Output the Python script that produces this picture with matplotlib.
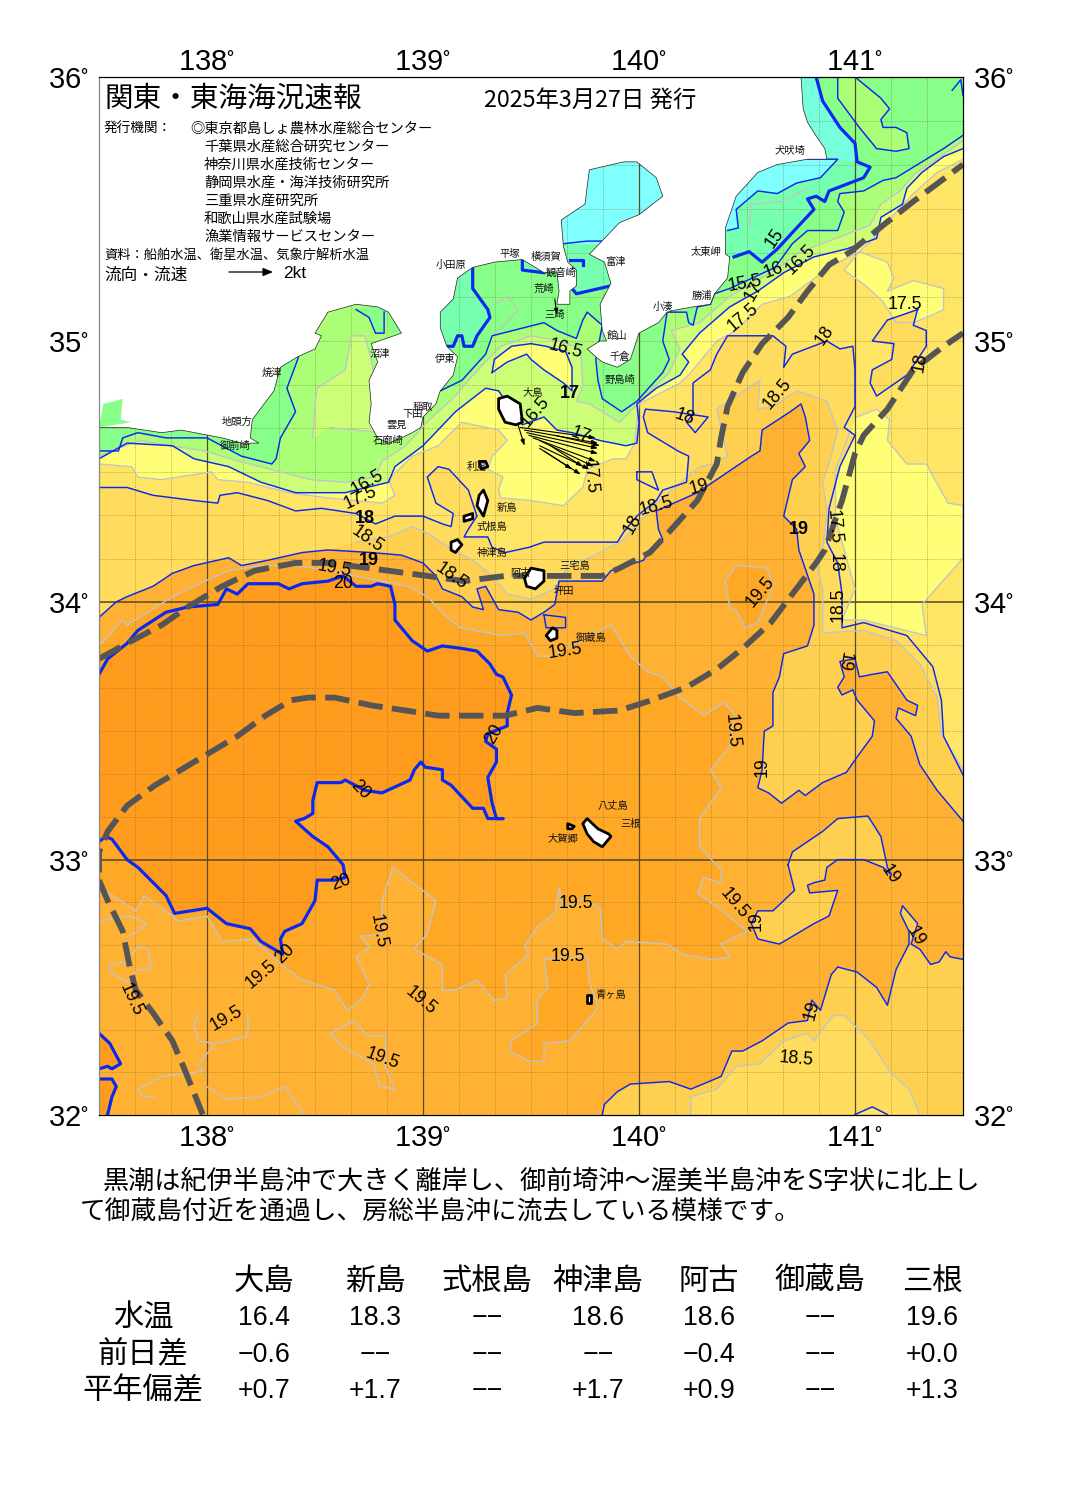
import numpy as np
import matplotlib
matplotlib.use('Agg')
import matplotlib.pyplot as plt
from matplotlib.patches import Polygon
from matplotlib.transforms import ScaledTranslation

plt.rcParams['font.family'] = ['Noto Sans CJK JP', 'DejaVu Sans']
plt.rcParams['mathtext.default'] = 'regular'

W, H = 1065, 1505

# 等温線 (経度, 緯度)
iso_16 = [(137.50,34.58),(137.59,34.58),(137.61,34.63),(137.68,34.65),(137.81,34.63),(138.00,34.63),(138.16,34.56),(138.30,34.53),(138.32,34.55),(138.34,34.63),(138.41,34.73),(138.37,34.82),(138.42,34.93),(138.52,35.25),(138.89,35.25),(139.08,34.81),(139.18,34.85),(139.29,34.95),(139.32,35.02),(139.56,35.07),(139.62,35.04),(139.71,35.01),(139.74,35.08),(139.76,35.11),(139.83,35.06),(139.80,34.93),(139.81,34.85),(139.83,34.78),(139.92,34.73),(139.99,34.77),(140.11,34.88),(140.14,34.93),(140.11,35.00),(140.13,35.11),(140.22,35.11),(140.23,35.07),(140.25,35.06),(140.27,35.13),(140.33,35.14),(140.35,35.18),(140.42,35.20),(140.63,35.28),(140.71,35.37),(140.78,35.42),(140.92,35.42),(140.95,35.49),(140.92,35.53),(140.93,35.56),(141.04,35.57),(141.13,35.61),(141.19,35.62),(141.27,35.66),(141.41,35.73),(141.50,35.78)]
iso_16_head = [(138.69,35.12),(138.75,35.09),(138.78,35.03),(138.82,35.03),(138.82,35.11)]
iso_165 = [(137.50,34.56),(137.62,34.60),(137.69,34.62),(137.83,34.60),(137.99,34.58),(138.15,34.54),(138.34,34.50),(138.48,34.47),(138.64,34.46),(138.78,34.48),(138.81,34.54),(138.92,34.60),(139.03,34.70),(139.15,34.79),(139.22,34.86),(139.30,34.93),(139.36,34.98),(139.50,35.02),(139.63,35.00),(139.73,34.97),(139.74,34.83),(139.71,34.77),(139.77,34.76),(139.91,34.69),(140.03,34.79),(140.14,34.88),(140.19,34.97),(140.15,35.04),(140.28,35.07),(140.42,35.17),(140.61,35.26),(140.75,35.34),(140.88,35.38),(141.07,35.44),(141.12,35.52),(141.21,35.57),(141.27,35.63),(141.50,35.76)]
iso_17 = [(137.50,34.55),(137.63,34.61),(137.84,34.60),(137.94,34.55),(138.10,34.52),(138.25,34.46),(138.41,34.42),(138.64,34.42),(138.84,34.46),(138.87,34.52),(139.00,34.60),(139.15,34.73),(139.29,34.82),(139.35,34.81),(139.46,34.68),(139.56,34.71),(139.62,34.66),(139.69,34.65),(139.82,34.62),(139.94,34.60),(139.99,34.61),(140.00,34.69),(139.99,34.76),(140.08,34.82),(140.19,34.87),(140.23,34.92),(140.20,34.95),(140.28,35.03),(140.42,35.13),(140.55,35.19),(140.67,35.26),(140.81,35.32),(140.96,35.35),(141.10,35.39),(141.12,35.47),(141.22,35.52),(141.24,35.58),(141.31,35.64),(141.41,35.70),(141.50,35.73)]
iso_175 = [(137.50,34.53),(137.65,34.52),(137.68,34.48),(137.79,34.47),(138.02,34.50),(138.05,34.47),(138.19,34.46),(138.38,34.42),(138.56,34.40),(138.81,34.38),(138.87,34.41),(138.84,34.47),(138.95,34.56),(139.07,34.60),(139.18,34.69),(139.35,34.66),(139.39,34.62),(139.32,34.56),(139.30,34.51),(139.37,34.48),(139.35,34.43),(139.36,34.40),(139.50,34.39),(139.65,34.37),(139.74,34.44),(139.76,34.51),(139.88,34.55),(139.94,34.55),(139.98,34.61),(139.99,34.69),(140.00,34.76),(140.19,34.84),(140.24,34.88),(140.36,35.00),(140.45,35.04),(140.57,35.14),(140.70,35.17),(140.88,35.28),(141.02,35.34),(141.11,35.41),(141.18,35.48),(141.27,35.56),(141.38,35.64),(141.50,35.69)]
iso_18 = [(137.50,34.44),(137.63,34.44),(137.75,34.41),(137.94,34.39),(138.05,34.38),(138.06,34.41),(138.14,34.42),(138.28,34.39),(138.41,34.35),(138.53,34.36),(138.69,34.34),(138.78,34.30),(138.87,34.33),(139.00,34.33),(139.09,34.30),(139.13,34.29),(139.14,34.34),(139.06,34.38),(139.02,34.48),(139.07,34.52),(139.12,34.51),(139.21,34.43),(139.23,34.38),(139.25,34.33),(139.21,34.28),(139.19,34.25),(139.23,34.25),(139.30,34.25),(139.32,34.21),(139.38,34.19),(139.49,34.21),(139.56,34.23),(139.90,34.23),(139.93,34.27),(139.99,34.33),(140.08,34.39),(140.11,34.43),(140.22,34.46),(140.23,34.56),(140.18,34.58),(140.04,34.65),(140.02,34.71),(140.03,34.74),(140.16,34.73),(140.32,34.71),(140.26,34.65),(140.22,34.69),(140.25,34.72),(140.25,34.84),(140.33,34.89),(140.36,34.95),(140.41,35.02),(140.51,35.02),(140.62,35.02),(140.68,34.98),(140.67,34.90),(140.71,34.95),(140.87,35.00),(140.93,34.97),(140.99,34.98),(141.00,34.89),(141.00,34.75),(140.95,34.67),(141.00,34.64),(140.93,34.52),(140.88,34.36),(140.87,34.23),(140.92,34.15),(140.94,34.03),(140.94,33.90),(141.04,33.92),(141.24,33.87),(141.36,33.75),(141.40,33.62),(141.41,33.48),(141.50,33.33)]
iso_185 = [(138.69,34.23),(138.84,34.25),(138.95,34.29),(139.03,34.26),(139.10,34.22),(139.23,34.16),(139.32,34.10),(139.39,34.03),(139.50,34.01),(139.61,34.05),(139.67,34.14),(139.77,34.17),(139.93,34.24),(140.08,34.38),(140.28,34.52),(140.35,34.53),(140.41,34.56),(140.36,34.74),(140.56,34.85),(140.55,34.74),(140.62,34.75),(140.73,34.81),(140.87,34.77),(140.92,34.66),(140.89,34.56),(140.85,34.46),(140.87,34.35),(140.85,34.20),(140.82,34.15),(140.85,34.05),(140.85,33.88),(141.04,33.89),(141.19,33.85),(141.30,33.76),(141.38,33.63),(141.40,33.49),(141.50,33.35)]
iso_19_n = [(137.50,33.94),(137.58,34.00),(137.63,34.02),(137.75,34.06),(137.84,34.11),(137.94,34.14),(138.10,34.17),(138.16,34.14),(138.28,34.16),(138.44,34.19),(138.56,34.20),(138.76,34.19),(138.90,34.18),(139.00,34.15),(139.06,34.10),(139.09,34.05),(139.18,34.02),(139.23,33.98),(139.28,33.97),(139.25,34.05),(139.29,34.06),(139.35,33.97),(139.44,33.96),(139.50,33.93),(139.56,33.96),(139.61,33.99),(139.63,34.08),(139.83,34.08),(139.87,34.12),(140.02,34.16),(140.05,34.20),(140.11,34.24),(140.09,34.28),(140.08,34.35),(140.27,34.42),(140.52,34.56),(140.56,34.58),(140.57,34.66),(140.70,34.73),(140.75,34.76),(140.77,34.71),(140.79,34.62),(140.74,34.57),(140.77,34.52),(140.71,34.47),(140.67,34.33),(140.73,34.28),(140.74,34.20),(140.81,34.03),(140.81,33.91),(140.78,33.83),(140.67,33.80),(140.65,33.71),(140.62,33.65),(140.62,33.52),(140.58,33.50),(140.57,33.35),(140.55,33.28),(140.60,33.26),(140.66,33.22),(140.74,33.27),(140.77,33.25),(140.85,33.30),(140.96,33.34),(141.01,33.40),(141.08,33.48),(141.09,33.54),(141.01,33.62),(140.99,33.66),(140.94,33.64),(140.92,33.67),(140.95,33.71),(140.93,33.77),(141.00,33.78),(141.02,33.71),(141.08,33.72),(141.15,33.73),(141.24,33.62),(141.29,33.60),(141.28,33.56),(141.20,33.59),(141.19,33.55),(141.26,33.48),(141.30,33.37),(141.38,33.27),(141.45,33.20),(141.50,33.15)]
iso_19_s = [(141.50,32.61),(141.44,32.62),(141.42,32.64),(141.39,32.60),(141.35,32.59),(141.30,32.65),(141.26,32.67),(141.29,32.75),(141.22,32.82),(141.21,32.79),(141.25,32.72),(141.25,32.67),(141.19,32.57),(141.15,32.43),(141.10,32.50),(141.01,32.56),(140.92,32.58),(140.89,32.55),(140.84,32.41),(140.80,32.45),(140.78,32.37),(140.69,32.36),(140.57,32.29),(140.48,32.25),(140.43,32.25),(140.38,32.15),(140.24,32.10),(140.14,32.13),(139.96,32.12),(139.90,32.09),(139.84,32.04),(139.83,32.00)]
iso_19_loop = [(140.69,32.98),(140.71,33.03),(140.85,33.11),(140.92,33.16),(141.06,33.17),(141.12,33.09),(141.15,32.97),(141.17,32.94),(141.13,32.97),(141.04,33.00),(140.92,33.00),(140.87,32.97),(140.86,32.92),(140.81,32.91),(140.78,32.90),(140.79,32.87),(140.92,32.88),(140.88,32.78),(140.81,32.75),(140.75,32.72),(140.65,32.67),(140.55,32.69),(140.52,32.75),(140.55,32.80),(140.62,32.80),(140.72,32.88)]
iso_19_mikura = [(139.56,33.95),(139.66,33.94),(139.66,33.90),(139.57,33.90),(139.56,33.95)]
iso_195 = [(137.50,33.83),(137.61,33.93),(137.63,33.91),(137.84,34.02),(137.99,34.08),(138.10,34.12),(138.25,34.14),(138.41,34.14),(138.56,34.12),(138.93,34.06),(139.02,34.02),(139.10,33.95),(139.17,33.90),(139.37,33.87),(139.47,33.88),(139.53,33.79),(139.60,33.79),(139.71,33.84),(139.87,33.91),(139.96,33.79),(140.04,33.73),(140.11,33.71),(140.19,33.63),(140.30,33.56),(140.39,33.61),(140.44,33.57),(140.42,33.44),(140.33,33.35),(140.38,33.28),(140.28,33.16),(140.28,33.05),(140.38,32.96),(140.38,32.91),(140.30,32.93),(140.27,32.87),(140.37,32.81),(140.50,32.72),(140.38,32.67),(140.42,32.62),(140.34,32.61),(140.20,32.63),(140.13,32.67),(139.94,32.68),(139.90,32.65),(139.83,32.69),(139.82,32.81),(139.74,32.85),(139.65,32.81),(139.63,32.89),(139.61,32.79),(139.53,32.74),(139.47,32.66),(139.49,32.63),(139.38,32.55),(139.39,32.46),(139.33,32.45),(139.25,32.53),(139.15,32.49),(139.09,32.49),(139.09,32.59),(138.96,32.65),(139.02,32.71),(139.06,32.84),(138.86,32.97),(138.81,32.84),(138.81,32.71),(138.71,32.70),(138.75,32.66),(138.69,32.62),(138.75,32.51),(138.72,32.46),(138.65,32.41),(138.59,32.49),(138.44,32.53),(138.36,32.58),(138.21,32.69),(138.07,32.68),(138.00,32.78),(137.87,32.76),(137.71,32.86),(137.67,32.80),(137.51,32.89),(137.50,32.90)]
iso_20 = [(137.50,33.72),(137.54,33.78),(137.63,33.84),(137.68,33.89),(137.81,33.96),(137.91,33.98),(138.05,33.99),(138.09,34.05),(138.14,34.03),(138.19,34.07),(138.33,34.07),(138.38,34.05),(138.44,34.07),(138.56,34.08),(138.63,34.10),(138.69,34.06),(138.76,34.06),(138.79,34.07),(138.85,34.06),(138.87,33.99),(138.87,33.93),(138.95,33.85),(139.02,33.81),(139.09,33.83),(139.18,33.82),(139.25,33.81),(139.31,33.76),(139.34,33.72),(139.37,33.71),(139.41,33.64),(139.39,33.57),(139.39,33.52),(139.30,33.49),(139.29,33.46),(139.34,33.43),(139.34,33.38),(139.30,33.32),(139.32,33.22),(139.34,33.16),(139.37,33.16),(139.30,33.16),(139.28,33.20),(139.23,33.20),(139.13,33.29),(139.09,33.31),(139.09,33.35),(139.01,33.36),(138.99,33.38),(138.96,33.35),(138.94,33.31),(138.81,33.26),(138.73,33.27),(138.64,33.31),(138.62,33.30),(138.51,33.30),(138.49,33.23),(138.49,33.18),(138.45,33.16),(138.41,33.15),(138.49,33.09),(138.56,33.05),(138.63,32.98),(138.64,32.93),(138.59,32.92),(138.51,32.92),(138.50,32.84),(138.44,32.75),(138.36,32.72),(138.34,32.69),(138.35,32.63),(138.25,32.68),(138.20,32.73),(138.09,32.75),(138.00,32.81),(137.85,32.79),(137.81,32.86),(137.68,32.97),(137.63,33.00),(137.56,33.08),(137.53,33.09),(137.50,33.07)]
iso_20_a = [(137.50,32.32),(137.55,32.28),(137.60,32.20),(137.56,32.18),(137.54,32.19),(137.50,32.18)]
iso_20_b = [(137.50,32.14),(137.56,32.14),(137.58,32.11),(137.56,32.07),(137.54,32.00)]

iso_15_boso = [(140.82,36.00),(140.85,35.91),(140.93,35.81),(141.00,35.75),(141.01,35.68),(141.07,35.66),(141.04,35.62),(140.88,35.57),(140.86,35.53),(140.82,35.55),(140.78,35.54),(140.81,35.50),(140.73,35.43),(140.64,35.35),(140.57,35.30),(140.51,35.34),(140.44,35.32)]
iso_15_sagami = [(139.23,35.28),(139.23,35.20),(139.30,35.12),(139.31,35.09),(139.25,35.02),(139.23,34.98),(139.19,34.98),(139.18,35.02),(139.16,35.02),(139.14,34.98),(139.11,34.98)]
iso_15_miura = [(139.46,35.31),(139.46,35.27),(139.56,35.26)]
iso_15_mouth = [(139.69,35.20),(139.71,35.18),(139.87,35.21)]
iso_15_bay = [(139.68,35.31),(139.74,35.31),(139.74,35.29)]
iso_14_boso = [(140.41,35.42),(140.46,35.43),(140.45,35.50),(140.55,35.57),(140.64,35.56),(140.73,35.60),(140.84,35.62),(140.92,35.69),(140.82,35.69),(140.78,35.69)]
iso_14_bay = [(139.65,35.37),(139.76,35.38),(139.91,35.38)]
iso_16_ne = [(140.92,36.00),(140.92,35.92),(141.02,35.81),(141.10,35.73),(141.19,35.72),(141.25,35.73),(141.24,35.79),(141.19,35.81),(141.13,35.81),(141.12,35.84),(141.16,35.88),(141.12,35.92),(141.00,36.00)]
iso_16_corner = [(141.45,35.95),(141.49,35.99),(141.50,35.93)]
iso_17_loop = [(139.32,34.88),(139.33,34.93),(139.41,34.98),(139.50,34.99),(139.57,34.98),(139.66,34.96),(139.69,34.90),(139.69,34.81),(139.65,34.84),(139.56,34.89),(139.50,34.93),(139.48,34.95),(139.39,34.92)]
iso_18_ne = [(141.29,35.12),(141.15,35.08),(141.08,35.00),(141.18,34.99),(141.17,34.93),(141.08,34.89),(141.07,34.84),(141.10,34.79),(141.24,34.87),(141.33,34.98),(141.33,35.04),(141.27,35.06)]
iso_18_small = [(139.99,34.50),(140.06,34.50),(140.09,34.43),(139.99,34.47),(139.99,34.50)]
iso_18_bottom = [(141.00,32.00),(141.08,32.03),(141.15,32.00)]

lobe_175_a = [(141.02,35.34),(141.15,35.30),(141.18,35.24),(141.15,35.19),(141.27,35.23),(141.41,35.20),(141.41,35.12),(141.36,35.10),(141.27,35.07),(141.19,35.07),(141.13,35.15),(141.05,35.21),(140.95,35.27)]
lobe_175_b = [(141.01,34.71),(141.10,34.74),(141.16,34.70),(141.15,34.62),(141.24,34.53),(141.33,34.53),(141.43,34.38),(141.50,34.37),(141.50,34.17),(141.47,34.14),(141.31,33.99),(141.33,33.87),(141.04,33.93),(140.94,33.93),(141.00,34.05),(140.95,34.20),(140.91,34.32),(140.91,34.51),(140.98,34.66)]
lobe_165_suruga = [(138.49,34.63),(138.50,34.76),(138.51,34.82),(138.64,34.89),(138.67,35.02),(138.73,35.02),(138.76,34.93),(138.79,34.81),(138.82,34.65),(138.57,34.67)]
lobe_155_head = [(138.69,35.12),(138.75,35.09),(138.78,35.03),(138.82,35.03),(138.82,35.11),(138.85,35.03),(138.90,35.03),(138.80,35.15)]
lobe_185_south = [(140.24,32.00),(140.24,32.07),(140.36,32.10),(140.45,32.19),(140.56,32.20),(140.67,32.29),(140.78,32.32),(140.81,32.29),(140.90,32.39),(140.95,32.39),(141.07,32.29),(141.16,32.17),(141.25,32.10),(141.30,32.00)]
lobe_195_ne = [(140.40,34.08),(140.45,34.14),(140.59,34.13),(140.62,34.06),(140.55,33.92),(140.49,33.90),(140.45,33.97),(140.42,33.98)]
lobe_195_s = [(139.56,32.61),(139.76,32.62),(139.77,32.52),(139.81,32.42),(139.68,32.29),(139.56,32.28),(139.56,32.21),(139.49,32.21),(139.40,32.25),(139.41,32.29),(139.53,32.36),(139.53,32.45),(139.58,32.50)]
gray_a = [(137.50,32.76),(137.57,32.77),(137.65,32.78),(137.72,32.75),(137.68,32.72),(137.63,32.70)]
gray_b = [(137.55,32.59),(137.63,32.60),(137.68,32.66),(137.73,32.65),(137.74,32.57),(137.68,32.57),(137.63,32.52),(137.55,32.56),(137.55,32.59)]
gray_c = [(137.96,32.40),(137.94,32.35),(137.96,32.29),(138.04,32.28),(137.96,32.20),(137.98,32.17),(137.79,32.15),(137.68,32.10),(137.70,32.07),(137.76,32.07)]
gray_d = [(138.19,32.39),(138.19,32.31),(138.05,32.28)]
gray_e = [(138.57,32.32),(138.68,32.37),(138.74,32.31),(138.83,32.31),(138.82,32.20),(138.87,32.10),(138.80,32.11),(138.77,32.20),(138.64,32.26),(138.57,32.32)]
gray_f = [(138.00,32.11),(138.09,32.06),(138.25,32.07),(138.36,32.11),(138.45,32.00)]
gray_boso = [(140.51,35.43),(140.52,35.52),(140.67,35.53),(140.78,35.58)]
gray_sagami = [(139.33,35.14),(139.39,35.17),(139.44,35.12),(139.39,35.07),(139.33,35.03)]

# 黒潮流路
kuroshio_main = [(137.50,33.78),(137.63,33.84),(137.79,33.91),(137.91,33.98),(138.07,34.06),(138.22,34.12),(138.41,34.15),(138.56,34.15),(138.75,34.13),(139.02,34.10),(139.19,34.08),(139.38,34.10),(139.67,34.10),(139.83,34.10),(139.91,34.13),(140.05,34.19),(140.14,34.27),(140.27,34.39),(140.36,34.53),(140.38,34.63),(140.41,34.75),(140.48,34.88),(140.57,34.99),(140.69,35.09),(140.78,35.19),(140.88,35.29),(140.98,35.34),(141.13,35.44),(141.27,35.53),(141.50,35.67)]
kuroshio_off = [(137.50,32.95),(137.50,33.03),(137.54,33.11),(137.63,33.21),(137.76,33.29),(137.90,33.36),(138.04,33.43),(138.14,33.48),(138.27,33.56),(138.39,33.62),(138.47,33.63),(138.59,33.63),(138.76,33.60),(138.92,33.58),(139.07,33.56),(139.24,33.56),(139.38,33.56),(139.53,33.59),(139.70,33.57),(139.91,33.58),(140.06,33.62),(140.22,33.67),(140.36,33.74),(140.48,33.82),(140.61,33.92),(140.71,34.03),(140.82,34.15),(140.86,34.20),(140.94,34.39),(141.00,34.57),(141.04,34.64),(141.15,34.74),(141.27,34.89),(141.41,34.98),(141.50,35.03)]
kuroshio_sw = [(137.50,32.92),(137.54,32.84),(137.61,32.72),(137.64,32.59),(137.67,32.49),(137.75,32.40),(137.84,32.29),(137.90,32.17),(137.98,32.00)]

# 陸地と島
coast = [(140.75,36.00),(140.76,35.88),(140.78,35.83),(140.81,35.79),(140.86,35.73),(140.87,35.69),(140.78,35.69),(140.64,35.67),(140.55,35.64),(140.45,35.55),(140.40,35.43),(140.40,35.33),(140.42,35.32),(140.41,35.24),(140.35,35.18),(140.33,35.14),(140.25,35.13),(140.18,35.12),(140.13,35.11),(140.09,35.07),(140.00,35.03),(139.96,34.93),(139.90,34.90),(139.83,34.92),(139.80,34.94),(139.76,34.97),(139.82,35.00),(139.85,35.00),(139.83,35.04),(139.82,35.14),(139.87,35.22),(139.84,35.30),(139.77,35.33),(139.91,35.45),(140.00,35.48),(140.11,35.55),(140.08,35.62),(139.99,35.68),(139.93,35.68),(139.77,35.65),(139.75,35.52),(139.64,35.46),(139.65,35.36),(139.67,35.30),(139.71,35.27),(139.71,35.21),(139.68,35.19),(139.68,35.14),(139.62,35.14),(139.63,35.19),(139.62,35.26),(139.56,35.26),(139.46,35.31),(139.33,35.30),(139.23,35.28),(139.16,35.24),(139.14,35.16),(139.08,35.11),(139.08,35.05),(139.11,34.98),(139.16,34.94),(139.14,34.87),(139.08,34.81),(139.06,34.76),(139.00,34.71),(138.99,34.67),(138.95,34.65),(138.90,34.63),(138.84,34.61),(138.79,34.63),(138.75,34.69),(138.76,34.76),(138.75,34.85),(138.79,34.92),(138.76,34.99),(138.90,35.03),(138.84,35.11),(138.79,35.13),(138.69,35.14),(138.56,35.11),(138.50,35.03),(138.53,35.02),(138.50,34.97),(138.42,34.94),(138.34,34.90),(138.31,34.81),(138.21,34.70),(138.20,34.63),(138.24,34.61),(138.16,34.61),(138.07,34.63),(137.88,34.66),(137.79,34.65),(137.63,34.67),(137.50,34.67)]
atsumi = [(137.52,34.76),(137.57,34.77),(137.61,34.78),(137.60,34.70),(137.65,34.69),(137.50,34.67)]
islands = [
    [(139.35,34.78),(139.39,34.79),(139.45,34.76),(139.46,34.69),(139.43,34.68),(139.38,34.69),(139.35,34.74)],
    [(139.28,34.43),(139.30,34.39),(139.28,34.33),(139.25,34.37),(139.26,34.41)],
    [(139.26,34.54),(139.29,34.54),(139.30,34.52),(139.27,34.51)],
    [(139.19,34.33),(139.23,34.34),(139.23,34.32),(139.19,34.31)],
    [(139.13,34.23),(139.16,34.24),(139.18,34.22),(139.15,34.19),(139.13,34.20)],
    [(139.47,34.09),(139.50,34.13),(139.56,34.12),(139.56,34.08),(139.52,34.05),(139.48,34.06)],
    [(139.57,33.87),(139.60,33.90),(139.62,33.89),(139.62,33.86),(139.59,33.85)],
    [(139.74,33.14),(139.76,33.16),(139.81,33.12),(139.86,33.10),(139.87,33.09),(139.83,33.05),(139.79,33.07),(139.76,33.10)],
    [(139.67,33.14),(139.70,33.13),(139.69,33.12),(139.67,33.12)],
    [(139.76,32.47),(139.78,32.47),(139.78,32.44),(139.76,32.44)],
]

# 流向・流速
current_start = [(139.45,34.67),(139.47,34.66),(139.48,34.65),(139.49,34.64),(139.51,34.63),(139.54,34.62),(139.54,34.60),(139.56,34.58),(139.44,34.68),(139.54,34.59),(139.59,34.60),(139.61,34.64)]
current_end = [(139.80,34.63),(139.81,34.61),(139.81,34.59),(139.81,34.57),(139.80,34.54),(139.79,34.52),(139.77,34.51),(139.73,34.49),(139.47,34.60),(139.69,34.51),(139.74,34.52),(139.82,34.60)]
miura_current = [(139.61,35.16),(139.62,35.10)]

# 文字
place_names = ['小田原','平塚','横須賀','観音崎','荒崎','三崎','富津','太東岬','犬吠埼','勝浦','小湊','館山','千倉','野島崎','大島','利島','新島','式根島','神津島','三宅島','阿古','坪田','御蔵島','八丈島','三根','大賀郷','青ヶ島','沼津','伊東','焼津','稲取','下田','雲見','石廊崎','地頭方','御前崎']
place_lon = [139.13,139.40,139.57,139.64,139.56,139.61,139.89,140.31,140.70,140.29,140.11,139.90,139.91,139.91,139.51,139.25,139.39,139.32,139.32,139.70,139.45,139.65,139.78,139.88,139.96,139.65,139.87,138.80,139.10,138.30,139.00,138.95,138.88,138.84,138.14,138.13]
place_lat = [35.29,35.33,35.32,35.26,35.20,35.10,35.30,35.34,35.72,35.17,35.13,35.02,34.94,34.85,34.80,34.52,34.36,34.29,34.19,34.14,34.11,34.04,33.86,33.21,33.14,33.08,32.47,34.95,34.93,34.88,34.75,34.72,34.68,34.62,34.69,34.60]

iso_labels = [('15',140.63,35.39,55),('15.5',140.49,35.22,10),('16',140.62,35.27,20),('16.5',140.75,35.31,45),('17',140.53,35.19,60),('17.5',140.48,35.09,40),('18',140.86,35.02,55),('18.5',140.64,34.80,50),('17.5',141.23,35.14,0),('18',141.30,34.92,80),('18',140.21,34.71,-20),('19',140.28,34.44,15),('18',139.97,34.30,60),('18.5',140.08,34.37,15),('17.5',140.90,34.29,-85),('18',140.91,34.15,-90),('18.5',140.92,33.99,90),('16.5',139.66,34.97,-15),('16.5',138.74,34.46,30),('17.5',138.71,34.40,25),('18.5',138.74,34.24,-35),('19.5',138.59,34.13,-10),('20',138.63,34.07,0),('18.5',139.13,34.10,-35),('16.5',139.52,34.73,50),('17',139.73,34.64,-20),('17.5',139.77,34.48,-85),('19.5',139.66,33.81,8),('19.5',140.56,34.04,50),('19.5',140.43,33.50,-85),('19',140.57,33.36,90),('19',140.95,33.77,-100),('20',138.71,33.27,-45),('20',139.33,33.49,60),('20',138.62,32.91,20),('20',138.36,32.63,45),('19.5',138.25,32.55,40),('19.5',138.09,32.38,30),('19.5',137.65,32.45,-65),('19.5',138.79,32.72,-80),('19.5',138.99,32.45,-40),('19.5',138.81,32.22,-20),('19.5',139.71,32.83,0),('19.5',139.67,32.62,0),('18.5',140.73,32.22,-5),('19',140.80,32.41,75),('19',141.28,32.70,-60),('19',141.16,32.94,-55),('19.5',140.44,32.83,-50),('19',140.54,32.76,90)]
iso_labels_bold = [('19',140.74,34.28),('17',139.68,34.80),('18',138.73,34.32),('19',138.75,34.16)]

organizations = ['◎東京都島しょ農林水産総合センター','千葉県水産総合研究センター','神奈川県水産技術センター','静岡県水産・海洋技術研究所','三重県水産研究所','和歌山県水産試験場','漁業情報サービスセンター']

stations = ['大島','新島','式根島','神津島','阿古','御蔵島','三根']
row_names = ['水温','前日差','平年偏差']
water_temp = ['16.4','18.3','−−','18.6','18.6','−−','19.6']
diff_day = ['−0.6','−−','−−','−−','−0.4','−−','+0.0']
diff_normal = ['+0.7','+1.7','−−','+1.7','+0.9','−−','+1.3']

# 色
c_base = '#88FF88'; c_14 = '#80FFFF'; c_15 = '#77FFB0'; c_16 = '#AAFF77'; c_165 = '#CCFF77'
c_17 = '#FFFF77'; c_175 = '#FFE566'; c_18 = '#FFDB5E'; c_185 = '#FFD050'
c_19 = '#FFB133'; c_195 = '#FFA826'; c_20 = '#FF9C1E'
blue = '#0A28F0'; gray = '#C4C4C4'


def merc(lat):
    return np.degrees(np.log(np.tan(np.radians(45 + np.asarray(lat) / 2))))


def merc_inv(y):
    return 2 * np.degrees(np.arctan(np.exp(np.radians(np.asarray(y))))) - 90


def fill(pts, color, z=1):
    ax.add_patch(Polygon(pts, closed=True, fc=color, ec='none', zorder=z))


def line(pts, color=blue, lw=1.0, z=3, **kw):
    ax.plot([p[0] for p in pts], [p[1] for p in pts], color=color, lw=lw, zorder=z,
            solid_joinstyle='round', **kw)


def ftext(px, py, s, **kw):
    fig.text(px / W, 1 - py / H, s, va='center', **kw)


fig = plt.figure(figsize=(W / 100, H / 100), dpi=100)
ax = fig.add_axes([99 / W, 1 - 1114.5 / H, 864 / W, 1037.5 / H])
ax.set_yscale('function', functions=(merc, merc_inv))
ax.set_xlim(137.5, 141.5)
ax.set_ylim(32, 36)
ax.set_facecolor(c_base)

SW, SE, NE, NW = (137.5, 32), (141.5, 32), (141.5, 36), (137.5, 36)

fill(iso_15_boso + [(140.37, 35.32), (140.37, 36.0)], c_15)
fill([(140.75,36.0),(140.82,36.0),(140.85,35.91),(140.93,35.81),(141.0,35.75),(141.01,35.68),(140.92,35.69),(140.84,35.72),(140.77,35.84)], '#77FFDD')
fill(iso_14_boso + [(140.37, 35.69), (140.37, 35.42)], c_14)
fill(iso_15_sagami + [(139.08, 34.98), (139.08, 35.28)], c_15)
fill(iso_15_miura + [(139.56, 35.35), (139.46, 35.35)], c_15)
fill([(139.61,35.38),(139.91,35.38),(139.87,35.21),(139.71,35.18),(139.69,35.20),(139.61,35.25)], c_15)
fill([(139.61,35.76),(140.14,35.76),(140.14,35.37),(139.61,35.37)], c_14)
fill(iso_16_ne, c_16)
fill(iso_16_corner + [(141.50, 36.0)], c_16)
fill(iso_16 + [SE, SW], c_16)
fill(lobe_155_head, c_base)
fill(iso_165 + [SE, SW], c_165)
fill(lobe_165_suruga, c_165)
fill(iso_17 + [SE, SW], c_17)
fill(iso_17_loop, c_17)
fill(iso_175 + [SE, SW], c_175)
fill(lobe_175_a, c_17)
fill(lobe_175_b, c_17)
fill(iso_18 + [SE, SW], c_18)
fill(iso_18_ne, c_18)
fill(iso_185 + [SE, SW, (137.5, 33.93)], c_185)
fill(lobe_185_south, c_18)
fill(iso_18_bottom, c_175)
fill(iso_19_n + iso_19_s + [SW], c_19)
fill(iso_19_loop, c_185)
fill(iso_195, c_195)
fill(lobe_195_ne, c_195)
fill(lobe_195_s, c_195)
fill(iso_20, c_20)
fill(iso_20_a, c_20)
fill(iso_20_b + [SW], c_20)

# 経緯線
for lon in np.arange(137.5, 141.5, 1 / 6):
    ax.axvline(lon, color='#7A6A30', lw=0.6, ls=(0, (1.5, 1.5)), alpha=0.55, zorder=2)
for lat in np.arange(32, 36, 1 / 6):
    ax.axhline(lat, color='#7A6A30', lw=0.6, ls=(0, (1.5, 1.5)), alpha=0.55, zorder=2)
for lon in [138, 139, 140, 141]:
    ax.axvline(lon, color='#5A4A20', lw=0.9, zorder=2)
for lat in [33, 34]:
    ax.axhline(lat, color='#5A4A20', lw=1.1, zorder=2)

for pts in [iso_165, iso_175, iso_185, iso_195, lobe_175_a + lobe_175_a[:1], lobe_175_b,
            lobe_165_suruga, lobe_185_south, lobe_195_ne + lobe_195_ne[:1],
            lobe_195_s + lobe_195_s[:1], gray_a, gray_b, gray_c, gray_d, gray_e, gray_f,
            gray_boso, gray_sagami]:
    line(pts, color=gray, lw=1.0, z=3)
for pts in [iso_16, iso_16_head, iso_17, iso_18, iso_19_n, iso_19_s, iso_14_boso, iso_14_bay, iso_16_ne,
            iso_16_corner, iso_17_loop + iso_17_loop[:1], iso_18_ne + iso_18_ne[:1], iso_18_small,
            iso_18_bottom, iso_19_loop + iso_19_loop[:1], iso_19_mikura]:
    line(pts, lw=1.05, z=3.2)
for pts in [iso_20, iso_20_a, iso_20_b, iso_15_boso, iso_15_sagami, iso_15_miura, iso_15_mouth, iso_15_bay]:
    line(pts, lw=2.3, z=3.4)

for pts in [kuroshio_main, kuroshio_off, kuroshio_sw]:
    ax.plot([p[0] for p in pts], [p[1] for p in pts], color='#555555', lw=4.2,
            ls=(0, (4.2, 1.6)), zorder=4)

# 陸地
ax.add_patch(Polygon(coast + [NW], closed=True, fc='white', ec='none', zorder=5))
ax.add_patch(Polygon(atsumi, closed=True, fc=c_base, ec='none', zorder=5.1))
line(coast, color='#222222', lw=0.5, z=5.2)
for pts in islands:
    ax.add_patch(Polygon(pts, closed=True, fc='white', ec='black', lw=2.0, joinstyle='round', zorder=6))

for s, e in zip(current_start, current_end):
    ax.annotate('', xy=e, xytext=s, zorder=7,
                arrowprops=dict(arrowstyle='-|>,head_width=0.12,head_length=0.35', lw=0.8, color='black', shrinkA=0, shrinkB=0))
ax.annotate('', xy=miura_current[1], xytext=miura_current[0], zorder=7,
            arrowprops=dict(arrowstyle='-|>,head_width=0.12,head_length=0.35', lw=0.8, color='black', shrinkA=0, shrinkB=0))

for name, lon, lat in zip(place_names, place_lon, place_lat):
    ax.text(lon, lat, name, fontsize=7.4, ha='center', va='center', color='#111111', zorder=8)
for s, lon, lat, rot in iso_labels:
    ax.text(lon, lat, s, fontsize=12.8, ha='center', va='center', rotation=rot, color='black',
            family='Liberation Sans', zorder=8, rotation_mode='anchor')
for s, lon, lat in iso_labels_bold:
    ax.text(lon, lat, s, fontsize=13, ha='center', va='center', color='black', weight='bold',
            family='Liberation Sans', zorder=8)

# 目盛
ax.set_xticks([138, 139, 140, 141])
ax.set_xticklabels([f'{v}$^{{\\circ}}$' for v in [138, 139, 140, 141]])
ax.set_yticks([32, 33, 34, 35, 36])
ax.set_yticklabels([f'{v}$^{{\\circ}}$' for v in [32, 33, 34, 35, 36]])
ax.minorticks_off()
ax.tick_params(axis='both', length=0, labelsize=21, top=False, right=False,
               labeltop=True, labelbottom=True, labelleft=True, labelright=True, pad=7)
for t in ax.get_xticklabels() + ax.get_yticklabels():
    t.set_family('Liberation Sans')
# 上の目盛だけ少し下げる
for tick in ax.xaxis.get_major_ticks():
    tick.label2.set_transform(tick.label2.get_transform() + ScaledTranslation(0, -6 / 72, fig.dpi_scale_trans))
for s in ax.spines.values():
    s.set_linewidth(0.9)
    s.set_zorder(9)
ax.spines['left'].set_color('#888888')

# 図中の見出し
ftext(104, 99, '関東・東海海況速報', fontsize=20.6, zorder=10)
ftext(484, 101, '2025年3月27日 発行', fontsize=16.8, zorder=10)
ftext(104, 129, '発行機関：', fontsize=9.8, zorder=10)
org_y = [129, 147, 165, 183, 201, 219, 237]
for i, (org, y) in enumerate(zip(organizations, org_y)):
    ftext(190 if i == 0 else 204, y, org, fontsize=10.3, zorder=10)
ftext(104, 255, '資料：船舶水温、衛星水温、気象庁解析水温', fontsize=9.5, zorder=10)
ftext(104, 275, '流向・流速', fontsize=12, zorder=10)
ftext(283, 274, '2kt', fontsize=12.5, family='Liberation Sans', zorder=10)
fig.add_artist(matplotlib.patches.FancyArrowPatch((229 / W, 1 - 272 / H), (273 / W, 1 - 272 / H),
               transform=fig.transFigure, arrowstyle='-|>,head_width=2.5,head_length=6',
               lw=0.9, color='black', shrinkA=0, shrinkB=0, zorder=10))

# 本文と表
ftext(103, 1181, '黒潮は紀伊半島沖で大きく離岸し、御前埼沖～渥美半島沖をS字状に北上し', fontsize=18.8)
ftext(80, 1213, 'て御蔵島付近を通過し、房総半島沖に流去している模様です。', fontsize=18.5)

col_x = [264, 375, 487, 598, 709, 820, 932]
row_y = [1318, 1355, 1391]
for x, name in zip(col_x, stations):
    fig.text(x / W, 1 - 1281 / H, name, fontsize=21.8, ha='center', va='center')
for y, name in zip(row_y, row_names):
    fig.text(143 / W, 1 - y / H, name, fontsize=21.8, ha='center', va='center')
for y, vals in zip(row_y, [water_temp, diff_day, diff_normal]):
    for x, v in zip(col_x, vals):
        fig.text(x / W, 1 - y / H, v, fontsize=19.3, ha='center', va='center', family='Liberation Sans')

fig.savefig('out.png', dpi=100)
